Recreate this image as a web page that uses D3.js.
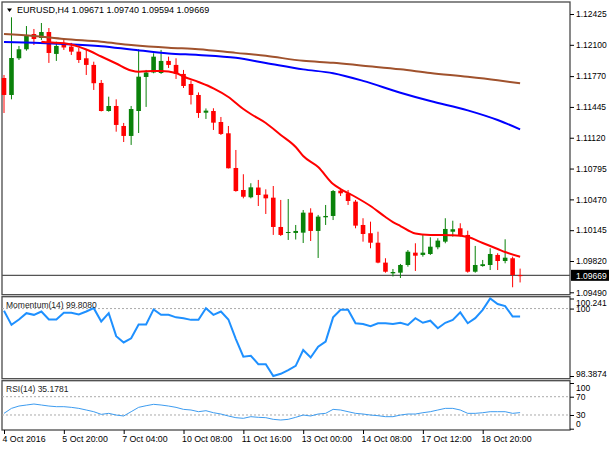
<!DOCTYPE html>
<html>
<head>
<meta charset="utf-8">
<script src="https://d3js.org/d3.v7.min.js"></script>
<style>
  body { margin: 0; background: #fff; }
  svg { display: block; font-family: "Liberation Sans", Arial, sans-serif; }
  .axis path.domain { display: none; }
  .axis line { stroke: #000; }
  .axis text { fill: #000; font-size: 8.5px; }
</style>
</head>
<body>
<svg id="chart" width="610" height="450"></svg>
<script>
// EURUSD H4, 70 bars
const opens = [1.11750,1.11571,1.11958,1.12053,1.12214,1.12172,1.12235,1.12004,1.12120,1.12081,
  1.12028,1.11958,1.11888,1.11698,1.11402,1.11455,1.11244,1.11139,1.11402,1.11761,
  1.11808,1.11803,1.11930,1.11888,1.11793,1.11687,1.11571,1.11384,1.11402,1.11286,
  1.11167,1.10801,1.10569,1.10492,1.10595,1.10521,1.10488,1.10179,1.10116,1.10116,
  1.10119,1.10330,1.10137,1.10281,1.10295,1.10562,1.10534,1.10446,1.10200,1.10113,
  1.10013,1.09803,1.09690,1.09697,1.09778,1.09908,1.09884,1.09894,1.09965,1.10024,
  1.10129,1.10165,1.10095,1.09707,1.09767,1.09778,1.09884,1.09820,1.09849,1.09671];
const highs = [1.11782,1.12390,1.12088,1.12298,1.12267,1.12330,1.12277,1.12133,1.12161,1.12120,
  1.12067,1.12046,1.11922,1.11729,1.11553,1.11525,1.11276,1.11455,1.12053,1.11835,
  1.12011,1.12046,1.11975,1.11958,1.11835,1.11724,1.11598,1.11429,1.11431,1.11339,
  1.11244,1.10991,1.10735,1.10640,1.10675,1.10576,1.10611,1.10464,1.10474,1.10200,
  1.10358,1.10376,1.10306,1.10411,1.10569,1.10576,1.10569,1.10464,1.10271,1.10235,
  1.10129,1.09849,1.09736,1.09789,1.09936,1.10007,1.10095,1.10070,1.10060,1.10271,
  1.10245,1.10218,1.10140,1.09979,1.09831,1.09954,1.09902,1.10049,1.09866,1.09740];
const lows = [1.11381,1.11525,1.11940,1.12038,1.12098,1.12151,1.11909,1.11930,1.12046,1.11993,
  1.11909,1.11782,1.11624,1.11397,1.11395,1.11184,1.11075,1.11044,1.11170,1.11445,
  1.11800,1.11793,1.11856,1.11740,1.11645,1.11471,1.11329,1.11318,1.11202,1.11149,
  1.10796,1.10551,1.10481,1.10481,1.10400,1.10316,1.10095,1.10084,1.10042,1.10047,
  1.10010,1.10031,1.09852,1.10200,1.10252,1.10506,1.10411,1.10165,1.10024,1.09954,
  1.09796,1.09697,1.09657,1.09641,1.09760,1.09715,1.09866,1.09884,1.09944,1.10007,
  1.10077,1.10077,1.09697,1.09697,1.09760,1.09725,1.09725,1.09796,1.09543,1.09594];
const closes = [1.11571,1.11961,1.12053,1.12193,1.12161,1.12235,1.12014,1.12088,1.12072,1.12028,
  1.11940,1.11888,1.11695,1.11402,1.11455,1.11255,1.11139,1.11423,1.11764,1.11808,
  1.11975,1.11930,1.11888,1.11793,1.11666,1.11571,1.11381,1.11406,1.11279,1.11160,
  1.10798,1.10558,1.10498,1.10597,1.10516,1.10481,1.10179,1.10095,1.10126,1.10137,
  1.10330,1.10137,1.10288,1.10295,1.10558,1.10534,1.10453,1.10193,1.10105,1.10013,
  1.09803,1.09707,1.09704,1.09778,1.09918,1.09876,1.09908,1.09971,1.10035,1.10158,
  1.10155,1.10095,1.09707,1.09778,1.09786,1.09894,1.09820,1.09855,1.09672,1.09669];

// moving averages, [bar, price]
const maRed = [[5,1.12133],[6,1.12126],[8,1.12117],[11,1.12051],[13,1.11977],[15,1.11903],
  [17,1.11829],[18,1.11816],[20,1.11824],[21,1.11824],[23,1.11803],[24,1.11766],[26,1.11708],
  [28,1.11641],[30,1.11550],[32,1.11423],[33,1.11370],[35,1.11275],[37,1.11149],[39,1.11022],
  [40,1.10927],[42,1.10811],[44,1.10632],[45,1.10579],[47,1.10495],[49,1.10400],[51,1.10284],
  [52,1.10231],[53,1.10189],[55,1.10110],[57,1.10095],[60,1.10091],[62,1.10073],[64,1.10010],
  [66,1.09947],[67,1.09915],[69,1.09865]];
const maBlue = [[0,1.12130],[4,1.12122],[8,1.12109],[13,1.12085],[17,1.12051],[22,1.12009],
  [26,1.11993],[31,1.11963],[35,1.11909],[40,1.11841],[44,1.11800],[48,1.11720],[53,1.11595],
  [57,1.11507],[62,1.11409],[66,1.11307],[69,1.11209]];
const maBrown = [[0,1.12214],[4,1.12193],[8,1.12161],[13,1.12132],[17,1.12098],[22,1.12069],
  [26,1.12054],[31,1.12015],[35,1.11984],[40,1.11931],[44,1.11911],[48,1.11880],[53,1.11842],
  [57,1.11803],[62,1.11763],[66,1.11726],[69,1.11694]];

const momentum = [99.95,99.61,99.74,99.89,99.85,99.93,99.74,99.74,99.90,99.90,
  99.86,99.93,100.01,99.69,99.89,99.34,99.19,99.29,99.62,99.62,
  99.98,99.85,99.85,99.79,99.77,99.73,99.73,100.01,99.85,99.93,
  99.74,99.27,98.85,98.87,98.67,98.67,98.3874,98.44,98.53,98.63,
  99.01,98.83,99.09,99.21,99.79,99.97,99.97,99.65,99.63,99.58,
  99.65,99.65,99.63,99.66,99.61,99.77,99.66,99.71,99.53,99.66,
  99.73,99.91,99.65,99.77,99.97,100.241,100.11,100.06,99.81,99.808];
const rsi = [33.6,44.5,49.6,51.8,54.0,51.8,49.6,48.2,48.2,46.7,
  44.5,40.9,37.2,31.4,33.6,29.9,27.8,37.2,46.7,50.3,
  53.3,51.8,49.6,46.7,42.3,40.9,37.2,39.4,35.0,32.1,
  27.8,24.1,22.7,26.3,24.9,24.1,20.5,19.0,20.5,24.9,
  29.9,27.8,32.1,33.6,42.3,40.9,37.2,33.6,32.1,29.9,
  28.5,26.3,26.3,29.9,32.1,32.1,35.0,37.2,40.9,44.5,
  44.5,40.9,33.6,33.6,35.0,37.2,37.2,37.2,33.6,35.1781];

const priceTicks = [1.12425,1.12100,1.11770,1.11445,1.11120,1.10795,1.10470,1.10145,1.09820,1.09490];
const momTicks = [100.241, 100, 98.3874];
const momLevels = [100];
const rsiTicks = [100, 70, 30, 0];
const rsiLevels = [70, 30];
const timeBars = [0, 8, 16, 24, 32, 40, 48, 56, 64];
const timeLabels = ["4 Oct 2016","5 Oct 20:00","7 Oct 04:00","10 Oct 08:00","11 Oct 16:00",
  "13 Oct 00:00","14 Oct 08:00","17 Oct 12:00","18 Oct 20:00"];

const svg = d3.select("#chart");
const left = 2, right = 570;
const main = {top: 2, bottom: 294.7};
const mom = {top: 296.7, bottom: 378.7};
const rsiP = {top: 380.7, bottom: 430};

const n = closes.length;
const x = d3.scaleLinear().domain([0, n - 1]).range([4, 520.1]);
const yPrice = d3.scaleLinear().domain([1.09490, 1.12425]).range([292.3, 14]);
const yMom = d3.scaleLinear().domain(d3.extent(momentum)).range([376, 298.5]);
const yRsi = d3.scaleLinear().domain([0, 100]).range([428.7, 383]);

const bars = d3.range(n).map(i => ({i, o: opens[i], h: highs[i], l: lows[i], c: closes[i]}));
const fmt5 = d3.format(".5f");
const last = bars[n - 1];

// frames
[main, mom, rsiP].forEach(p => {
  svg.append("rect")
    .attr("x", left).attr("y", p.top)
    .attr("width", right - left).attr("height", p.bottom - p.top)
    .attr("fill", "none").attr("stroke", "#4a4a4a").attr("stroke-width", 1.3)
});

// bid line
svg.append("line")
  .attr("x1", left).attr("x2", right)
  .attr("y1", yPrice(last.c)).attr("y2", yPrice(last.c))
  .attr("stroke", "#555").attr("stroke-width", 1.3);

// candles
const up = "#0a820a", down = "#ff0000";
const candles = svg.append("g").selectAll("g").data(bars).join("g");
candles.append("line")
  .attr("x1", d => x(d.i)).attr("x2", d => x(d.i))
  .attr("y1", d => yPrice(d.h)).attr("y2", d => yPrice(d.l))
  .attr("stroke", d => d.c >= d.o ? up : down).attr("stroke-width", 1);
candles.append("rect")
  .attr("x", d => x(d.i) - 2.3).attr("width", 4.6)
  .attr("y", d => yPrice(Math.max(d.o, d.c)))
  .attr("height", d => Math.max(1, Math.abs(yPrice(d.o) - yPrice(d.c))))
  .attr("fill", d => d.c >= d.o ? up : down);

// moving averages
const maLine = d3.line().x(d => x(d[0])).y(d => yPrice(d[1])).curve(d3.curveMonotoneX);
[[maBrown, "#a0522d"], [maBlue, "#0000ff"], [maRed, "#ff0000"]].forEach(([data, color]) => {
  svg.append("path").datum(data)
    .attr("d", maLine)
    .attr("fill", "none").attr("stroke", color).attr("stroke-width", 2);
});

// price axis
svg.append("g").attr("class", "axis")
  .attr("transform", `translate(${right},0)`)
  .call(d3.axisRight(yPrice).tickValues(priceTicks).tickSize(4).tickPadding(2).tickFormat(fmt5));

svg.append("rect")
  .attr("x", right + 1).attr("y", yPrice(last.c) - 5.5)
  .attr("width", 38).attr("height", 11).attr("fill", "#000");
svg.append("text")
  .attr("x", right + 6).attr("y", yPrice(last.c) + 3.2)
  .attr("fill", "#fff").style("font-size", "8.5px")
  .text(fmt5(last.c));

// header
svg.append("path").attr("d", "M7,8.5L12,8.5L9.5,12Z").attr("fill", "#000");
svg.append("text")
  .attr("x", 17).attr("y", 13.3).style("font-size", "9px").attr("fill", "#000")
  .text(`EURUSD,H4  ${fmt5(last.o)} ${fmt5(last.h)} ${fmt5(last.l)} ${fmt5(last.c)}`);

// momentum panel
svg.append("g").selectAll("line").data(momLevels).join("line")
  .attr("x1", left).attr("x2", right)
  .attr("y1", d => yMom(d)).attr("y2", d => yMom(d))
  .attr("stroke", "#aaa").attr("stroke-dasharray", "2,2");
svg.append("path").datum(momentum)
  .attr("d", d3.line().x((d, i) => x(i)).y(d => yMom(d)))
  .attr("fill", "none").attr("stroke", "#1e90ff").attr("stroke-width", 2);
svg.append("text")
  .attr("x", 6).attr("y", 308).style("font-size", "8.5px").attr("fill", "#222")
  .text(`Momentum(14) ${d3.format(".4f")(momentum[n - 1])}`);
const momExt = d3.extent(momentum);
svg.append("g").attr("class", "axis")
  .attr("transform", `translate(${right},0)`)
  .call(d3.axisRight(yMom).tickValues(momTicks).tickSize(4).tickPadding(2).tickFormat(d => String(d)))
  .selectAll("text")
  .attr("y", d => d === momExt[1] ? 4 : d === momExt[0] ? -2 : 0);

// rsi panel
svg.append("g").selectAll("line").data(rsiLevels).join("line")
  .attr("x1", left).attr("x2", right)
  .attr("y1", d => yRsi(d)).attr("y2", d => yRsi(d))
  .attr("stroke", "#aaa").attr("stroke-dasharray", "2,2");
svg.append("path").datum(rsi)
  .attr("d", d3.line().x((d, i) => x(i)).y(d => yRsi(d)))
  .attr("fill", "none").attr("stroke", "#3d9cf0").attr("stroke-width", 1);
svg.append("text")
  .attr("x", 6).attr("y", 392).style("font-size", "8.5px").attr("fill", "#222")
  .text(`RSI(14) ${d3.format(".4f")(rsi[n - 1])}`);
svg.append("g").attr("class", "axis")
  .attr("transform", `translate(${right},0)`)
  .call(d3.axisRight(yRsi).tickValues(rsiTicks).tickSize(4).tickPadding(2))
  .selectAll("text")
  .attr("y", d => d === 100 ? 4.7 : d === 0 ? -4.7 : 0);

// time axis
svg.append("g").attr("class", "axis")
  .attr("transform", `translate(0,${rsiP.bottom})`)
  .call(d3.axisBottom(x).tickValues(timeBars).tickSize(4).tickPadding(2)
    .tickFormat((d, i) => timeLabels[i]))
  .selectAll("text")
  .attr("text-anchor", "start").attr("dx", -2)
  .style("font-size", "8.8px");
</script>
</body>
</html>
